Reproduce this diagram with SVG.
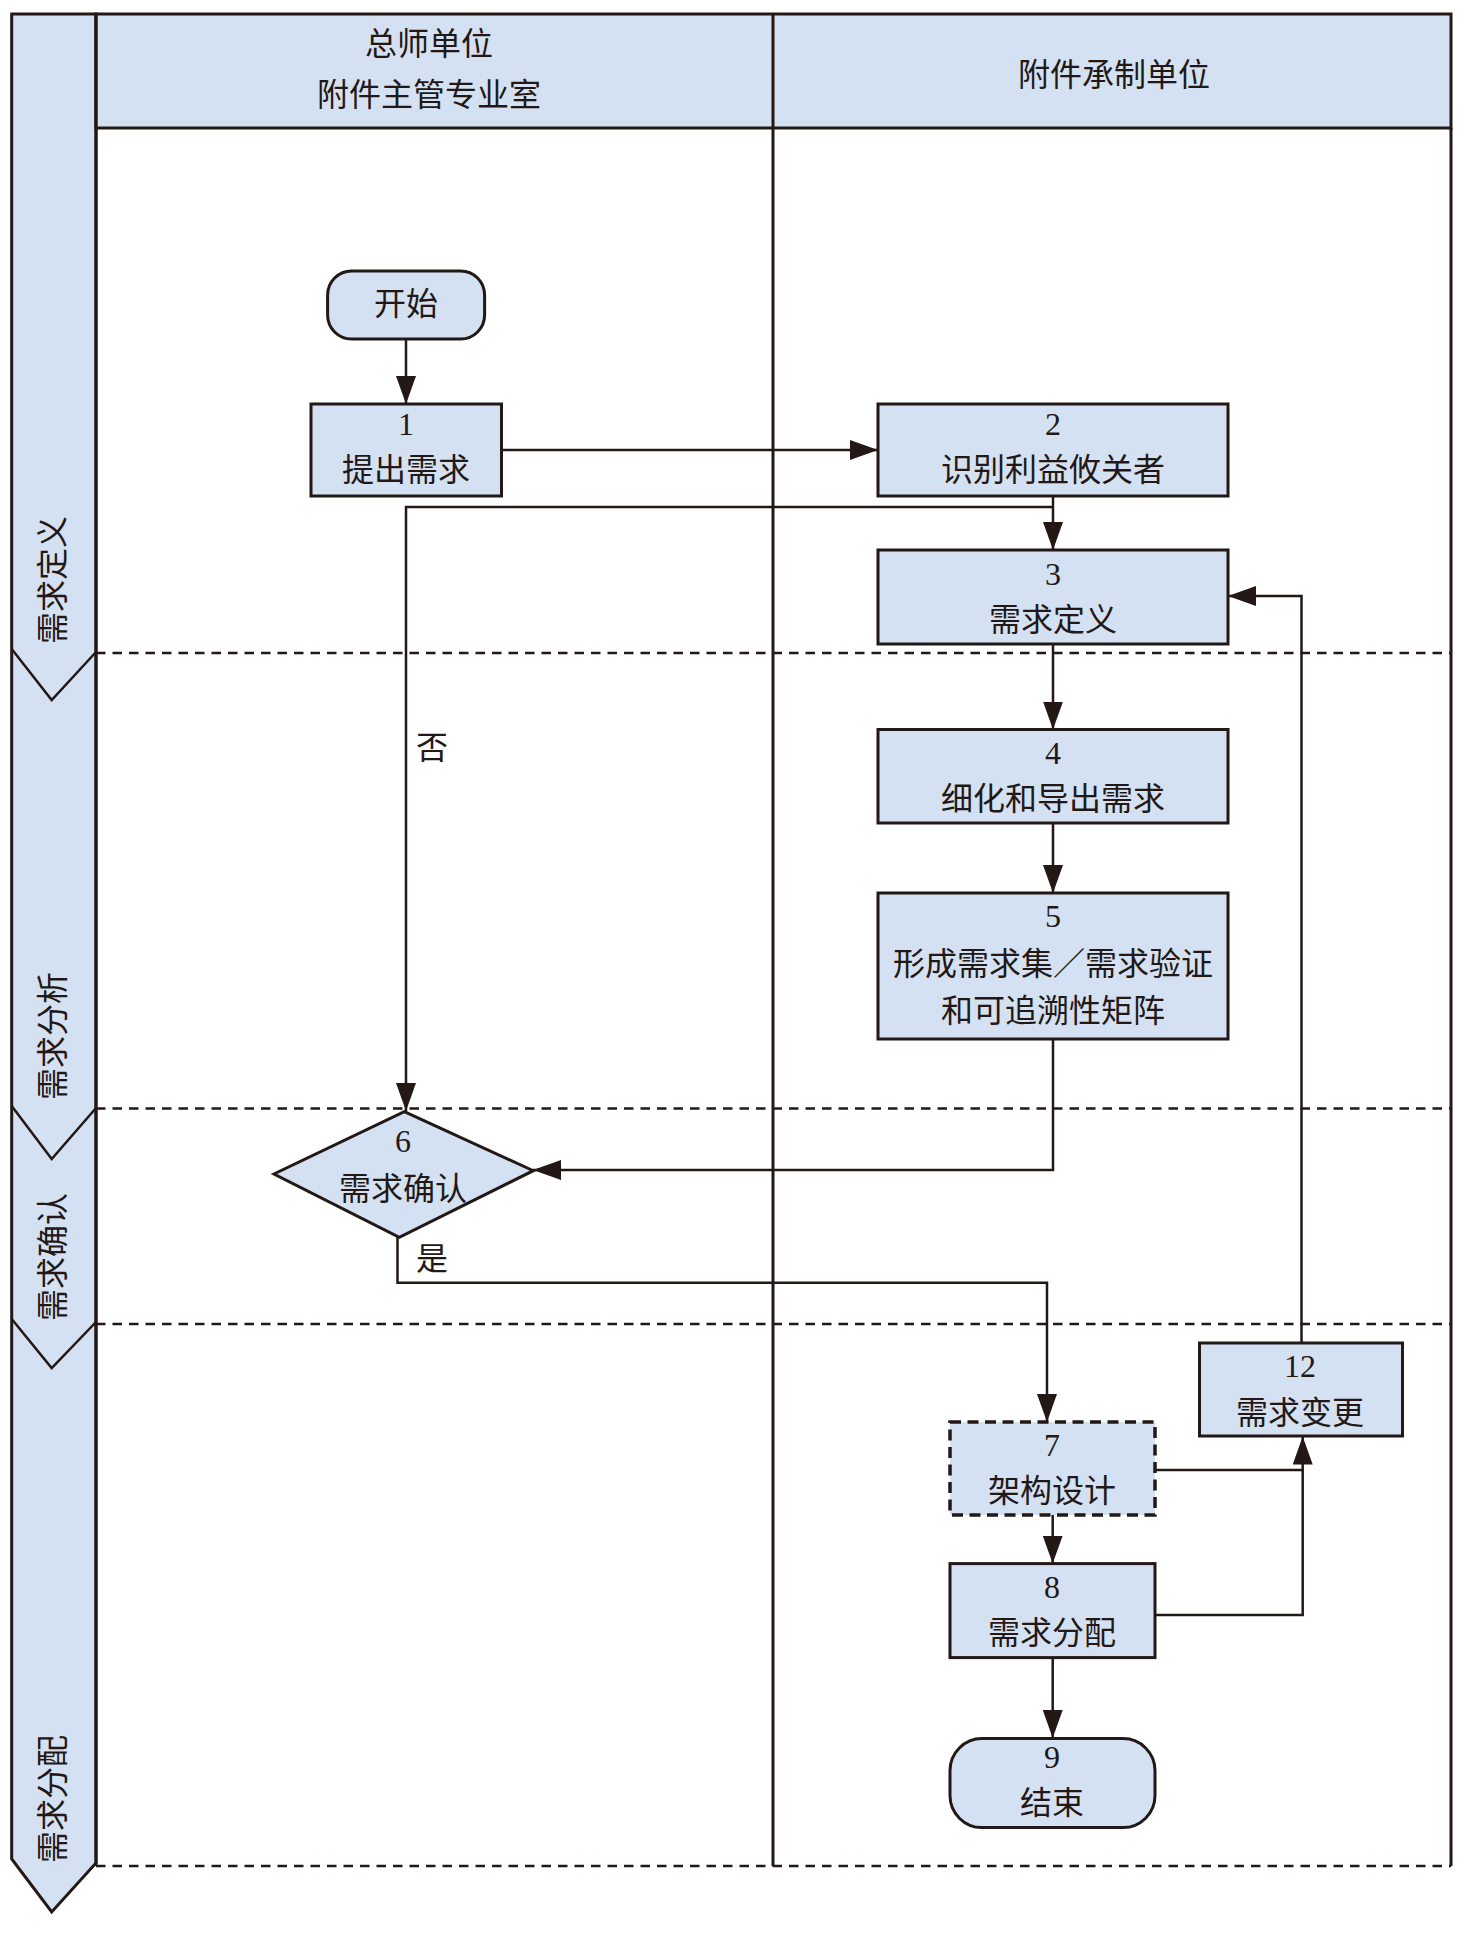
<svg xmlns="http://www.w3.org/2000/svg" width="1465" height="1944" viewBox="0 0 1465 1944">
<style>
.bg{fill:#d3e1f2;stroke:#231815;stroke-width:3}
.ln{fill:none;stroke:#231815;stroke-width:3}
.dash{fill:none;stroke:#231815;stroke-width:2.6;stroke-dasharray:9.5 7}
.box{fill:#d3e1f2;stroke:#231815;stroke-width:3}
.boxd{fill:#d3e1f2;stroke:#231815;stroke-width:3.5;stroke-dasharray:11 6.5}
.c{fill:none;stroke:#231815;stroke-width:2.5}
.t{font-family:"Liberation Serif","Noto Sans CJK SC",serif;font-size:32px;fill:#231815;text-anchor:middle}
.v{font-family:"Liberation Serif","Noto Sans CJK SC",serif;font-size:32px;fill:#231815;text-anchor:start}
</style>
<defs>
<marker id="ah" markerUnits="userSpaceOnUse" markerWidth="28" markerHeight="20" refX="28" refY="10" orient="auto">
<path d="M0,0 L28,10 L0,20 z" fill="#231815"/>
</marker>
</defs>
<rect width="1465" height="1944" fill="#ffffff"/>
<g id="frame">
<polygon class="bg" points="11.7,14 96,14 96,1863 51.7,1912 11.7,1859"/>
<rect class="bg" x="96" y="14" width="1355" height="114"/>
<line class="ln" x1="1451" y1="128" x2="1451" y2="1866"/>
<line class="ln" x1="773" y1="14" x2="773" y2="1866"/>
<line class="ln" x1="96" y1="14" x2="96" y2="1866"/>
<polyline class="c" points="11.7,649 51.7,700 96,652"/>
<polyline class="c" points="11.7,1106 51.7,1159 96,1108"/>
<polyline class="c" points="11.7,1319 51.7,1368 96,1322"/>
<line class="dash" x1="96" y1="653" x2="1451" y2="653"/>
<line class="dash" x1="96" y1="1108.5" x2="1451" y2="1108.5"/>
<line class="dash" x1="96" y1="1324" x2="1451" y2="1324"/>
<line class="dash" x1="96" y1="1866" x2="1451" y2="1866"/>
<text class="t" x="429" y="55">总师单位</text>
<text class="t" x="429" y="106">附件主管专业室</text>
<text class="t" x="1114" y="86">附件承制单位</text>
<text class="v" transform="translate(64,644) rotate(-90)">需求定义</text>
<text class="v" transform="translate(64,1100) rotate(-90)">需求分析</text>
<text class="v" transform="translate(64,1321) rotate(-90)">需求确认</text>
<text class="v" transform="translate(64,1863) rotate(-90)">需求分配</text>
</g>
<g id="connectors">
<path class="c" d="M406,339 V404" marker-end="url(#ah)"/>
<path class="c" d="M501.5,450 H878" marker-end="url(#ah)"/>
<path class="c" d="M1053,496 V550" marker-end="url(#ah)"/>
<path class="c" d="M1053,507 H406 V1111" marker-end="url(#ah)"/>
<path class="c" d="M1053,644 V729.5" marker-end="url(#ah)"/>
<path class="c" d="M1053,823 V893" marker-end="url(#ah)"/>
<path class="c" d="M1053,1039 V1170 H533" marker-end="url(#ah)"/>
<path class="c" d="M397.5,1237 V1282.7 H1047 V1422" marker-end="url(#ah)"/>
<path class="c" d="M1052.7,1515 V1563.6" marker-end="url(#ah)"/>
<path class="c" d="M1052.7,1658 V1738" marker-end="url(#ah)"/>
<path class="c" d="M1155,1615 H1302.7 V1436.5" marker-end="url(#ah)"/>
<path class="c" d="M1154,1470 H1302.7"/>
<path class="c" d="M1301.5,1343 V596 H1228" marker-end="url(#ah)"/>
<text class="t" x="432" y="759">否</text>
<text class="t" x="432" y="1270">是</text>
</g>
<g id="start">
<rect class="box" x="327.6" y="271" width="157" height="68" rx="24" ry="24"/>
<text class="t" x="406" y="315">开始</text>
</g>
<g id="n1">
<rect class="box" x="311" y="404" width="190.5" height="92"/>
<text class="t" x="406" y="435">1</text>
<text class="t" x="406" y="481">提出需求</text>
</g>
<g id="n2">
<rect class="box" x="878" y="404" width="350" height="92"/>
<text class="t" x="1053" y="435">2</text>
<text class="t" x="1053" y="481">识别利益攸关者</text>
</g>
<g id="n3">
<rect class="box" x="878" y="550" width="350" height="94"/>
<text class="t" x="1053" y="585">3</text>
<text class="t" x="1053" y="631">需求定义</text>
</g>
<g id="n4">
<rect class="box" x="878" y="729.5" width="350" height="93.5"/>
<text class="t" x="1053" y="764">4</text>
<text class="t" x="1053" y="810">细化和导出需求</text>
</g>
<g id="n5">
<rect class="box" x="878" y="893" width="350" height="146"/>
<text class="t" x="1053" y="927">5</text>
<text class="t" x="1053" y="975">形成需求集／需求验证</text>
<text class="t" x="1053" y="1022">和可追溯性矩阵</text>
</g>
<g id="n6">
<polygon class="box" points="404.3,1111.7 533.3,1170.7 399.3,1237.3 274,1174"/>
<text class="t" x="403" y="1152">6</text>
<text class="t" x="403" y="1200">需求确认</text>
</g>
<g id="n7">
<rect class="boxd" x="950" y="1422" width="205" height="93"/>
<text class="t" x="1052" y="1456">7</text>
<text class="t" x="1052" y="1502">架构设计</text>
</g>
<g id="n8">
<rect class="box" x="950" y="1563.6" width="205" height="94"/>
<text class="t" x="1052" y="1598">8</text>
<text class="t" x="1052" y="1644">需求分配</text>
</g>
<g id="n9">
<rect class="box" x="950" y="1738.6" width="205" height="89" rx="32" ry="32"/>
<text class="t" x="1052" y="1768">9</text>
<text class="t" x="1052" y="1814">结束</text>
</g>
<g id="n12">
<rect class="box" x="1199.5" y="1343" width="203" height="93"/>
<text class="t" x="1300" y="1377">12</text>
<text class="t" x="1300" y="1424">需求变更</text>
</g>
</svg>
